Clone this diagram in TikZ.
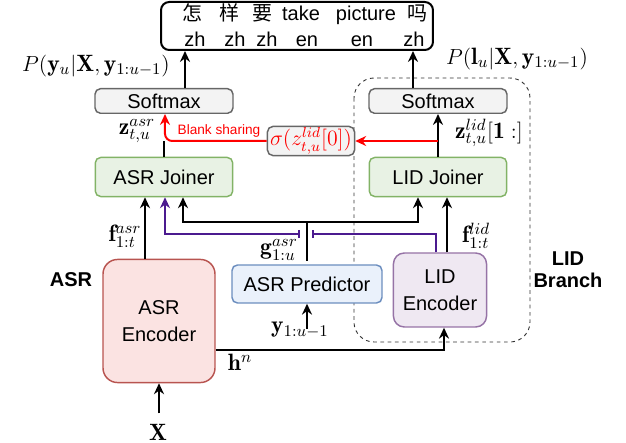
\documentclass[tikz,border=0pt]{standalone}
\usepackage{fontspec}
\setsansfont{Liberation Sans}
\newfontfamily\cjkfont{Noto Sans CJK SC}
\usetikzlibrary{arrows.meta}

\definecolor{grayline}{HTML}{666666}
\definecolor{grayfill}{HTML}{F3F3F3}
\definecolor{greenline}{HTML}{82B366}
\definecolor{greenfill}{HTML}{E8F2E4}
\definecolor{redline}{HTML}{B85450}
\definecolor{redfill}{HTML}{FBE3E2}
\definecolor{blueline}{HTML}{6C8EBF}
\definecolor{bluefill}{HTML}{EAF1FB}
\definecolor{purpleline}{HTML}{9673A6}
\definecolor{purplefill}{HTML}{EFE8F2}
\definecolor{indigoline}{HTML}{4B1A8F}

\tikzset{
  box/.style={draw, rounded corners=3pt, line width=0.8pt, inner sep=0pt, align=center,
    font=\sffamily\fontsize{11}{15}\selectfont},
  softbox/.style={box, draw=grayline, fill=grayfill, minimum width=75.9pt, minimum height=13.5pt},
  joinbox/.style={box, draw=greenline, fill=greenfill, minimum width=75.6pt, minimum height=21.5pt},
  word/.style={inner sep=0pt, anchor=base, font=\sffamily\fontsize{11}{13}\selectfont},
  lbl/.style={inner sep=1pt, font=\fontsize{13}{15}\selectfont},
  tag/.style={inner sep=1pt, align=center, font=\sffamily\bfseries\fontsize{11}{12}\selectfont},
  arr/.style={-{Stealth[length=6pt,width=5.5pt]}, line width=1.1pt},
  redarr/.style={arr, draw=red},
  purpline/.style={line width=0.9pt, draw=indigoline},
  branch/.style={draw=black!80, line width=0.5pt, dash pattern=on 2pt off 2pt, rounded corners=11pt}
}

\begin{document}
\begin{tikzpicture}[x=0.55pt,y=-0.55pt]
\useasboundingbox (0,0) rectangle (626,443);

\node[box, draw=black, line width=1.1pt, rounded corners=4.5pt, minimum width=149.6pt, minimum height=26.4pt] (out) at (297,26) {};
\node[word] (c1) at (192,21) {\cjkfont 怎};
\node[word] (c2) at (230,21) {\cjkfont 样};
\node[word] (c3) at (262,21) {\cjkfont 要};
\node[word] (c4) at (301,21) {take};
\node[word] (c5) at (366,21) {picture};
\node[word] (c6) at (417,21) {\cjkfont 吗};
\node[word] (l1) at (195,47) {zh};
\node[word] (l2) at (235,47) {zh};
\node[word] (l3) at (267,47) {zh};
\node[word] (l4) at (307,47) {en};
\node[word] (l5) at (362,47) {en};
\node[word] (l6) at (414,47) {zh};

\draw[branch] (354,78) rectangle (530,342);

\node[softbox] (softA) at (164,101) {Softmax};
\node[softbox] (softL) at (438,101) {Softmax};
\node[joinbox] (joinA) at (164,177) {ASR Joiner};
\node[joinbox] (joinL) at (438,177) {LID Joiner};
\node[box, draw=grayline, fill=grayfill, minimum width=47.9pt, minimum height=16pt, text=red, font=\large] (blank) at (311,141) {$\sigma(z^{lid}_{t,u}[0])$};
\node[box, draw=blueline, fill=bluefill, minimum width=82.5pt, minimum height=20.9pt] (pred) at (307,284) {ASR Predictor};
\node[box, draw=redline, fill=redfill, rounded corners=8pt, minimum width=61.6pt, minimum height=67.7pt] (encA) at (159,321) {ASR\\Encoder};
\node[box, draw=purpleline, fill=purplefill, rounded corners=6pt, minimum width=51.2pt, minimum height=40.7pt] (encL) at (440,290) {LID\\Encoder};

\node[lbl] (pasr) at (96,66) {$P(\mathbf{y}_u|\mathbf{X},\mathbf{y}_{1:u-1})$};
\node[lbl] (plid) at (517,59) {$P(\mathbf{l}_u|\mathbf{X},\mathbf{y}_{1:u-1})$};
\node[lbl] (zasr) at (137,131) {$\mathbf{z}^{asr}_{t,u}$};
\node[lbl] (zlid) at (489,133) {$\mathbf{z}^{lid}_{t,u}[\mathbf{1}:]$};
\node[inner sep=1pt, text=red, font=\sffamily\fontsize{7.5}{9}\selectfont] (share) at (219,131) {Blank sharing};
\node[lbl] (fasr) at (125,236) {$\mathbf{f}^{asr}_{1:t}$};
\node[lbl] (flid) at (476,236) {$\mathbf{f}^{lid}_{1:t}$};
\node[lbl] (gasr) at (279,250) {$\mathbf{g}^{asr}_{1:u}$};
\node[lbl] (yprev) at (300,330) {$\mathbf{y}_{1:u-1}$};
\node[lbl] (hn) at (240,362) {$\mathbf{h}^{n}$};
\node[lbl] (xin) at (158,432) {$\mathbf{X}$};
\node[tag] (asr) at (71,280) {ASR};
\node[tag] (lid) at (568,270) {LID\\Branch};

\draw[arr] ([xshift=11.55pt]softA.north) -- ([xshift=11.55pt]softA.north |- out.south);
\draw[arr] ([xshift=-13.75pt]softL.north) -- ([xshift=-13.75pt]softL.north |- out.south);
\draw[line width=1.1pt] (joinA.north) -- (joinA.north |- blank.west);
\draw[redarr, rounded corners=4pt] (blank.west) -| ([xshift=0.55pt]softA.south);
\draw[arr] (joinL) -- (softL);
\draw[redarr] (blank.east -| joinL.north) -- (blank.east);

\coordinate (gjoin) at (307,222);
\coordinate (cutL) at (300,234);
\coordinate (cutR) at (312,234);
\draw[arr] ([xshift=-7.7pt]encA.north) -- ([xshift=-7.7pt]encA.north |- joinA.south);
\draw[arr, shorten <=2pt] (pred.north) -- (gjoin) -| ([xshift=10.45pt]joinA.south);
\draw[arr] (gjoin) -| ([xshift=-11pt]joinL.south);
\draw[arr] ([xshift=3.85pt]encL.north) -- ([xshift=3.85pt]encL.north |- joinL.south);
\draw[purpline, {Bar[width=4.5pt]}-{Stealth[length=6pt,width=5.5pt]}] (cutL) -| ([xshift=0.55pt]joinA.south);
\draw[purpline, -{Bar[width=4.5pt]}] ([xshift=-2.2pt]encL.north) |- (cutR);

\draw[arr] ([yshift=-16pt]encA.east) -| ([xshift=2.2pt]encL.south);
\draw[arr] ([yshift=-13.75pt]pred.south) -- (pred.south);
\draw[arr] ([yshift=-16.5pt]encA.south) -- (encA.south);
\end{tikzpicture}
\end{document}
